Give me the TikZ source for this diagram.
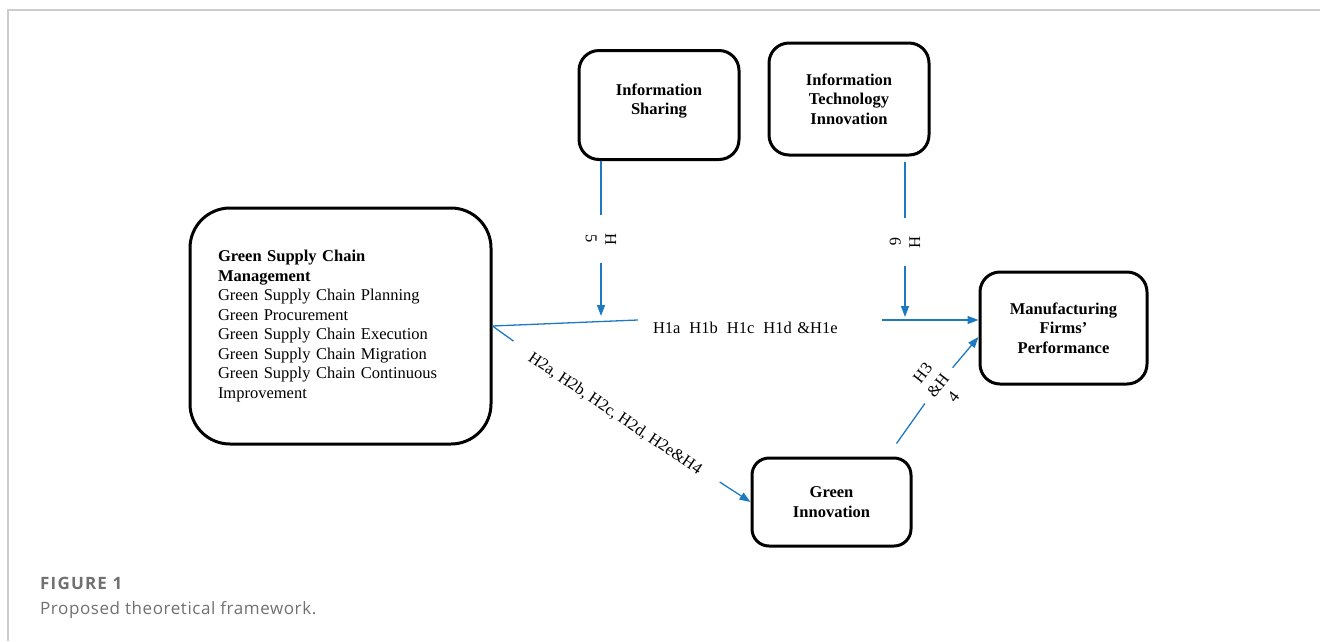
\documentclass[tikz,border=0pt]{standalone}
\usepackage{fontspec}
\setmainfont{Liberation Serif}
\newfontfamily\capfont[LetterSpace=3.4]{Open Sans}
\newfontfamily\figfont[LetterSpace=7]{Open Sans}
\usetikzlibrary{arrows.meta}
\definecolor{linkblue}{RGB}{30,122,192}
\definecolor{framegray}{RGB}{204,204,204}
\definecolor{capgray}{RGB}{112,112,112}
\newcommand{\hgap}{\hspace{9pt}}
\newcommand{\boxsize}{\fontsize{16.5}{19.5}\selectfont}
\tikzset{
  box/.style={draw, line width=3pt, rounded corners=20pt, align=center, font=\boxsize\bfseries},
  link/.style={draw=linkblue, line width=1.3pt},
  arr/.style={link, -{Triangle[length=11pt,width=8pt]}},
  hyp/.style={inner sep=2pt},
  captext/.style={anchor=base west, inner sep=0pt, text=capgray, font=\capfont\fontsize{17}{20}\selectfont}
}
\begin{document}
\begin{tikzpicture}[x=1pt,y=-1pt,font=\boxsize]
\useasboundingbox (0,0) rectangle (1320,641);
\draw[framegray, line width=2pt] (8,641) -- (8,10) -- (1320,10);
\node[box, minimum width=160pt, minimum height=109pt, text depth=11.5pt] (IS) at (659,105) {Information\\Sharing};
\node[box, minimum width=160pt, minimum height=112pt] (ITI) at (849,99) {Information\\Technology\\Innovation};
\node[box, rounded corners=40pt, font=\boxsize, align=left, text width=245pt, inner xsep=28pt, minimum height=236pt] (GSCM) at (340.5,326)
  {\textbf{Green Supply Chain\\Management}\\Green Supply Chain Planning\\Green Procurement\\Green Supply Chain Execution\\Green Supply Chain Migration\\Green Supply Chain Continuous\\Improvement};
\node[box, minimum width=167pt, minimum height=112pt] (MFP) at (1063.5,328) {Manufacturing\\Firms’\\Performance};
\node[box, rounded corners=17pt, minimum width=159pt, minimum height=88pt, text depth=0pt] (GI) at (831.5,502) {Green\\Innovation};
\node[hyp, rotate=-90, align=center, inner xsep=18pt] (h5) at (601,239) {H\\5};
\node[hyp, rotate=-90, align=center, inner xsep=18pt] (h6) at (905,242) {H\\6};
\node[hyp, align=left, text width=214pt, inner xsep=15pt] (h1) at (760,328) {H1a\hgap H1b\hgap H1c\hgap H1d \&H1e};
\node[hyp, rotate=-34, inner xsep=22pt] (h2) at (615,414) {H2a, H2b, H2c, H2d, H2e\&H4};
\node[hyp, rotate=52, align=center, inner xsep=10pt] (h34) at (938,385) {H3\\\&H\\4};
\draw[link] (IS.south -| h5) -- (h5);
\draw[arr, shorten >=4pt] (h5) -- (h5 |- h1.north west);
\draw[link, shorten <=5pt] (ITI.south -| h6) -- (h6);
\draw[arr, shorten >=3pt] (h6) -- (h6 |- h1.north east);
\draw[link] (GSCM.east) -- (h1.north west);
\draw[arr] (h1.north east) -- (h1.north east -| MFP.west);
\draw[link] (GSCM.east) -- (h2);
\draw[arr] (h2) -- (GI.west);
\draw[link] ([xshift=-16pt,yshift=13pt]GI.north east) -- (h34);
\draw[arr] (h34) -- (MFP.186);
\node[captext, font=\figfont\fontsize{17}{20}\selectfont] (fig) at (40,589) {\textbf{FIGURE 1}};
\node[captext] (title) at (40,614) {Proposed theoretical framework.};
\end{tikzpicture}
\end{document}
